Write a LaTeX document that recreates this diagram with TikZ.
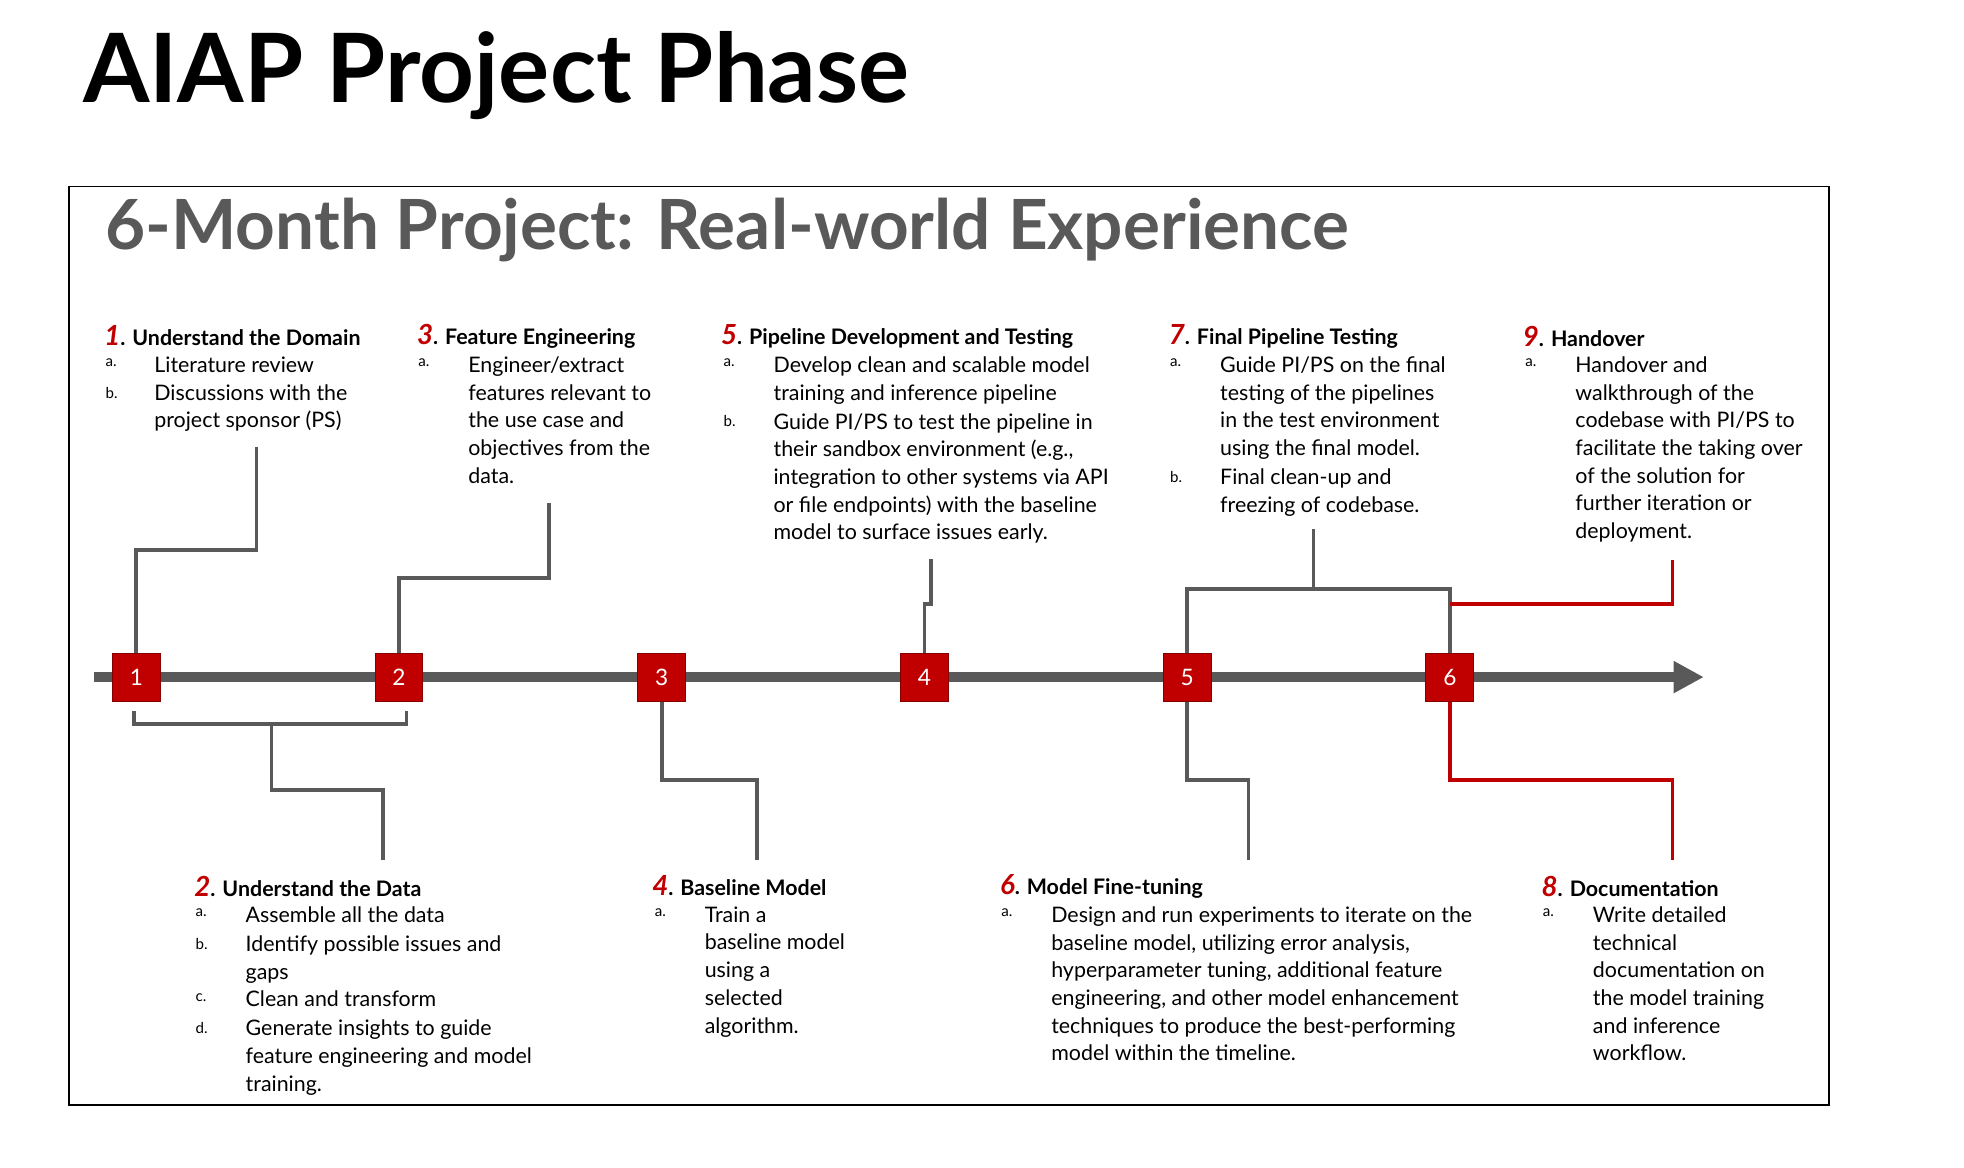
\documentclass[tikz,border=0pt]{standalone}
\usepackage{fontspec}
\setmainfont{Lato}
\usetikzlibrary{arrows.meta}
\definecolor{aiapred}{HTML}{C00000}
\definecolor{aiapgray}{HTML}{595959}
\tikzset{
  milestone/.style={fill=aiapred, draw=aiapred!70!black, minimum size=19pt, inner sep=0pt, text=white, font=\fontsize{9}{9}\selectfont},
  link/.style={draw=aiapgray, line width=1.5pt},
  redlink/.style={draw=aiapred, line width=1.5pt},
  head/.style={anchor=west, inner sep=0pt, font=\fontsize{8.5}{11}\selectfont\bfseries},
  lbl/.style={anchor=north west, inner sep=0pt, font=\fontsize{6}{11}\selectfont},
  item/.style={anchor=north west, inner sep=0pt, align=left, font=\fontsize{8.5}{11}\selectfont},
}
\newcommand{\num}[1]{\textcolor{aiapred}{\itshape\fontsize{11}{11}\selectfont #1}.}
\begin{document}
\begin{tikzpicture}[x=0.497pt, y=-0.5pt]
  \useasboundingbox (0,0) rectangle (1570,928);

  \node[anchor=west, inner sep=0pt, font=\fontsize{38}{38}\selectfont\bfseries] (title) at (66,60) {AIAP Project Phase};
  \draw[black, line width=0.6pt] (55,148) rectangle (1462,878);
  \node[anchor=west, inner sep=0pt, text=aiapgray, font=\fontsize{27.5}{27.5}\selectfont\bfseries] (subtitle) at (84,183) {6-Month Project: Real-world Experience};

  % timeline
  \coordinate (tstart) at (75,538);
  \coordinate (tend) at (1362,538);
  \draw[aiapgray, line width=4pt, -{Triangle[length=12pt,width=12pt]}] (tstart) -- (tend);
  \foreach \i/\x in {1/109,2/319,3/529,4/739,5/949,6/1159}
    \node[milestone] (s\i) at (\x,538) {\i};

  % connectors above
  \coordinate (c1) at (205,355);
  \coordinate (c3) at (439,400);
  \coordinate (c5) at (744,444);
  \coordinate (c7) at (1050,420);
  \coordinate (c9) at (1337,445);
  \draw[link] (s1.north) -- (109,437) -- (205,437) -- (c1);
  \draw[link] (s2.north) -- (319,459) -- (439,459) -- (c3);
  \draw[link] (s4.north) -- (739,480) -- (744,480) -- (c5);
  \draw[link] (s5.north) -- (949,468) -- (1159,468) -- (s6.north);
  \draw[link] (1050,468) -- (c7);
  \draw[redlink] (1159,480) -- (1337,480) -- (c9);

  % connectors below
  \coordinate (c2) at (306,683);
  \coordinate (c4) at (605,683);
  \coordinate (c6) at (998,683);
  \coordinate (c8) at (1337,683);
  \draw[link] (107,565) -- (107,575) -- (325,575) -- (325,565);
  \draw[link] (217,575) -- (217,628) -- (306,628) -- (c2);
  \draw[link] (s3.south) -- (529,620) -- (605,620) -- (c4);
  \draw[link] (s5.south) -- (949,620) -- (998,620) -- (c6);
  \draw[redlink] (s6.south) -- (1159,620) -- (1337,620) -- (c8);

  % 1
  \node[head] (h1) at (83,267) {\num{1} Understand the Domain};
  \node[lbl] (l1a) at (84,285) {a.};
  \node[item] (t1a) at (123,283) {Literature review};
  \node[lbl] (l1b) at (84,307) {b.};
  \node[item] (t1b) at (123,305) {Discussions with the\\project sponsor (PS)};
  % 3
  \node[head] (h3) at (333,267) {\num{3} Feature Engineering};
  \node[lbl] (l3a) at (334,285) {a.};
  \node[item] (t3a) at (374,283) {Engineer/extract\\features relevant to\\the use case and\\objectives from the\\data.};
  % 5
  \node[head] (h5) at (576,267) {\num{5} Pipeline Development and Testing};
  \node[lbl] (l5a) at (578,285) {a.};
  \node[item] (t5a) at (618,283) {Develop clean and scalable model\\training and inference pipeline};
  \node[lbl] (l5b) at (578,330) {b.};
  \node[item] (t5b) at (618,328) {Guide PI/PS to test the pipeline in\\their sandbox environment (e.g.,\\integration to other systems via API\\or file endpoints) with the baseline\\model to surface issues early.};
  % 7
  \node[head] (h7) at (934,267) {\num{7} Final Pipeline Testing};
  \node[lbl] (l7a) at (935,285) {a.};
  \node[item] (t7a) at (975,283) {Guide PI/PS on the final\\testing of the pipelines\\in the test environment\\using the final model.};
  \node[lbl] (l7b) at (935,374) {b.};
  \node[item] (t7b) at (975,372) {Final clean-up and\\freezing of codebase.};
  % 9
  \node[head] (h9) at (1217,267) {\num{9} Handover};
  \node[lbl] (l9a) at (1219,285) {a.};
  \node[item] (t9a) at (1259,283) {Handover and\\walkthrough of the\\codebase with PI/PS to\\facilitate the taking over\\of the solution for\\further iteration or\\deployment.};
  % 2
  \node[head] (h2) at (155,704) {\num{2} Understand the Data};
  \node[lbl] (l2a) at (156,722) {a.};
  \node[item] (t2a) at (196,720) {Assemble all the data};
  \node[lbl] (l2b) at (156,745) {b.};
  \node[item] (t2b) at (196,743) {Identify possible issues and\\gaps};
  \node[lbl] (l2c) at (156,789) {c.};
  \node[item] (t2c) at (196,787) {Clean and transform};
  \node[lbl] (l2d) at (156,812) {d.};
  \node[item] (t2d) at (196,810) {Generate insights to guide\\feature engineering and model\\training.};
  % 4
  \node[head] (h4) at (521,704) {\num{4} Baseline Model};
  \node[lbl] (l4a) at (523,722) {a.};
  \node[item] (t4a) at (563,720) {Train a\\baseline model\\using a\\selected\\algorithm.};
  % 6
  \node[head] (h6) at (799,704) {\num{6} Model Fine-tuning};
  \node[lbl] (l6a) at (800,722) {a.};
  \node[item] (t6a) at (840,720) {Design and run experiments to iterate on the\\baseline model, utilizing error analysis,\\hyperparameter tuning, additional feature\\engineering, and other model enhancement\\techniques to produce the best-performing\\model within the timeline.};
  % 8
  \node[head] (h8) at (1232,704) {\num{8} Documentation};
  \node[lbl] (l8a) at (1233,722) {a.};
  \node[item] (t8a) at (1273,720) {Write detailed\\technical\\documentation on\\the model training\\and inference\\workflow.};
\end{tikzpicture}
\end{document}
